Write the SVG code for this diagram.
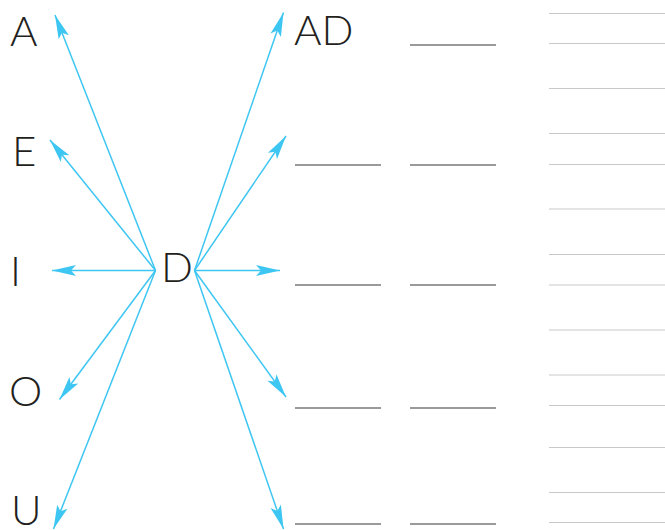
<svg xmlns="http://www.w3.org/2000/svg" width="665" height="530" viewBox="0 0 665 530">
<style>
.lbl{font-family:Lato,"Open Sans","Liberation Sans",sans-serif;font-size:42px;font-weight:300;fill:#231f20}
.arr{stroke:#3ec6f2;stroke-width:1.5;fill:none;marker-end:url(#ah)}
.blank{stroke:#9a9a9a;stroke-width:1.8}
.rule{stroke:#c9c9c9;stroke-width:1.2}
</style>
<defs>
<marker id="ah" markerUnits="userSpaceOnUse" orient="auto" refX="0" refY="0" markerWidth="30" markerHeight="14" overflow="visible">
<path d="M0,0 L-24,-5.5 L-19,0 L-24,5.5 Z" fill="#3ec6f2"/>
</marker>
</defs>
<g id="vowels">
<text id="A" class="lbl" x="10" y="45.5">A</text>
<text id="E" class="lbl" x="12" y="166">E</text>
<text id="I" class="lbl" x="10" y="285.5">I</text>
<text id="O" class="lbl" x="9" y="405.5">O</text>
<text id="U" class="lbl" x="11" y="524.5">U</text>
</g>
<g id="D"><text class="lbl" x="161" y="282">D</text></g>
<g id="AD"><text class="lbl" x="294" y="45">AD</text></g>
<g id="connectors">
<line class="arr" x1="155.5" y1="270.5" x2="55" y2="15"/>
<line class="arr" x1="155.5" y1="270.5" x2="50" y2="140"/>
<line class="arr" x1="155.5" y1="270.5" x2="52" y2="270.5"/>
<line class="arr" x1="155.5" y1="270.5" x2="59.5" y2="399.5"/>
<line class="arr" x1="155.5" y1="270.5" x2="53.5" y2="529"/>
<line class="arr" x1="194.5" y1="270.5" x2="283.5" y2="12.5"/>
<line class="arr" x1="194.5" y1="270.5" x2="286" y2="136"/>
<line class="arr" x1="194.5" y1="270.5" x2="280" y2="270.5"/>
<line class="arr" x1="194.5" y1="270.5" x2="286" y2="397"/>
<line class="arr" x1="194.5" y1="270.5" x2="283.5" y2="529"/>
</g>
<g id="blanks">
<line class="blank" x1="410" y1="45" x2="496" y2="45"/>
<line class="blank" x1="295" y1="165" x2="381" y2="165"/>
<line class="blank" x1="410" y1="165" x2="496" y2="165"/>
<line class="blank" x1="295" y1="285" x2="381" y2="285"/>
<line class="blank" x1="410" y1="285" x2="496" y2="285"/>
<line class="blank" x1="295" y1="408" x2="381" y2="408"/>
<line class="blank" x1="410" y1="408" x2="496" y2="408"/>
<line class="blank" x1="295" y1="524" x2="381" y2="524"/>
<line class="blank" x1="410" y1="524" x2="496" y2="524"/>
</g>
<g id="rules">
<line class="rule" x1="549" y1="13.5" x2="665" y2="13.5"/>
<line class="rule" x1="549" y1="43.5" x2="665" y2="43.5"/>
<line class="rule" x1="549" y1="88.5" x2="665" y2="88.5"/>
<line class="rule" x1="549" y1="133.5" x2="665" y2="133.5"/>
<line class="rule" x1="549" y1="164.5" x2="665" y2="164.5"/>
<line class="rule" x1="549" y1="209" x2="665" y2="209"/>
<line class="rule" x1="549" y1="254.5" x2="665" y2="254.5"/>
<line class="rule" x1="549" y1="285" x2="665" y2="285"/>
<line class="rule" x1="549" y1="330" x2="665" y2="330"/>
<line class="rule" x1="549" y1="375" x2="665" y2="375"/>
<line class="rule" x1="549" y1="405.5" x2="665" y2="405.5"/>
<line class="rule" x1="549" y1="447.5" x2="665" y2="447.5"/>
<line class="rule" x1="549" y1="492.5" x2="665" y2="492.5"/>
<line class="rule" x1="549" y1="522.5" x2="665" y2="522.5"/>
</g>
</svg>
